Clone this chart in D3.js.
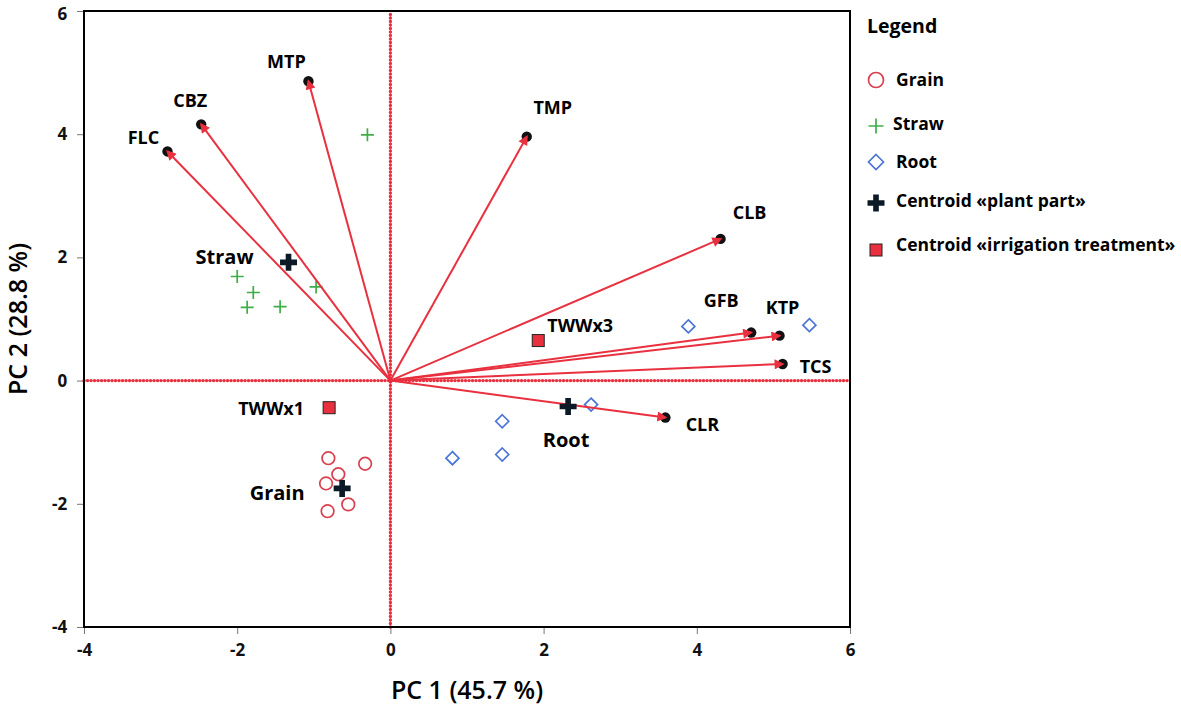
<!DOCTYPE html>
<html>
<head>
<meta charset="utf-8">
<script src="https://cdn.jsdelivr.net/npm/d3@7"></script>
<style>
  body { margin: 0; background: #fff; }
  text { font-family: "Open Sans", "Noto Sans", sans-serif; }
</style>
</head>
<body>
<svg id="biplot" width="1181" height="708"></svg>
<script>
// loading vectors (arrows)
const varNames = ["MTP", "CBZ", "FLC", "TMP", "CLB", "GFB", "KTP", "TCS", "CLR"];
const varX = [-1.07, -2.47, -2.91, 1.78, 4.31, 4.71, 5.08, 5.12, 3.59];
const varY = [4.86, 4.16, 3.72, 3.96, 2.30, 0.78, 0.73, 0.27, -0.60];

// sample scores
const grainX = [-0.81, -0.33, -0.68, -0.84, -0.55, -0.82];
const grainY = [-1.26, -1.35, -1.52, -1.67, -2.01, -2.12];
const strawX = [-0.30, -2.00, -1.79, -1.87, -1.44, -0.97];
const strawY = [3.99, 1.69, 1.43, 1.19, 1.20, 1.52];
const rootX = [0.81, 1.46, 1.46, 2.62, 3.89, 5.47];
const rootY = [-1.26, -1.20, -0.66, -0.39, 0.88, 0.90];

// centroids
const partNames = ["Straw", "Grain", "Root"];
const partX = [-1.33, -0.63, 2.32];
const partY = [1.92, -1.75, -0.42];
const treatNames = ["TWWx3", "TWWx1"];
const treatX = [1.93, -0.80];
const treatY = [0.65, -0.44];

const xTicks = [-4, -2, 0, 2, 4, 6];
const yTicks = [-4, -2, 0, 2, 4, 6];

const legendLabels = ["Grain", "Straw", "Root", "Centroid «plant part»", "Centroid «irrigation treatment»"];

const red = "#e8303f";
const green = "#3fae49";
const blue = "#4a74d6";

// label placement (pixel offsets from the point)
const varLabelOffset = {
  MTP: [-22, -20], CBZ: [-11, -24], FLC: [-24, -14], TMP: [26, -30], CLB: [29, -27],
  GFB: [-30, -33], KTP: [3, -29], TCS: [33, 2], CLR: [37, 6]
};
const partLabelOffset = { Straw: [-64, -6], Grain: [-65, 4], Root: [-2, 33] };
const treatLabelOffset = { TWWx3: [9, -16], TWWx1: [-58, 0] };

const svg = d3.select("#biplot");
const margin = { left: 84, top: 11, right: 331, bottom: 81 };
const W = 1181, H = 708;

const x = d3.scaleLinear().domain([-4, 6]).range([margin.left, W - margin.right]);
const y = d3.scaleLinear().domain([-4, 6]).range([H - margin.bottom, margin.top]);

svg.append("defs").append("marker")
  .attr("id", "head")
  .attr("viewBox", "0 0 10 10")
  .attr("refX", 8).attr("refY", 5)
  .attr("markerWidth", 7).attr("markerHeight", 5)
  .attr("markerUnits", "strokeWidth")
  .attr("orient", "auto")
  .append("path")
  .attr("d", "M0,0 L10,5 L0,10 Z")
  .attr("fill", red);

// axes
const xAxis = svg.append("g")
  .attr("transform", `translate(0,${H - margin.bottom})`)
  .call(d3.axisBottom(x).tickValues(xTicks).tickSize(7).tickFormat(d => String(d)));
const yAxis = svg.append("g")
  .attr("transform", `translate(${margin.left},0)`)
  .call(d3.axisLeft(y).tickValues(yTicks).tickSize(7).tickFormat(d => String(d)));

[xAxis, yAxis].forEach(g => {
  g.select(".domain").remove();
  g.selectAll("line").attr("stroke", "#777");
  g.selectAll("text")
    .attr("fill", "#111")
    .style("font-size", "17px")
    .style("font-weight", "bold");
});
xAxis.selectAll("text").attr("dy", "1.1em");
yAxis.selectAll("text").attr("dx", "-0.4em").attr("dy", d => d === 6 ? "0.5em" : "0.32em");

// zero lines
svg.append("line")
  .attr("x1", x(-4)).attr("x2", x(6)).attr("y1", y(0)).attr("y2", y(0))
  .attr("stroke", red).attr("stroke-width", 3.4)
  .attr("stroke-dasharray", "0.1,3.4").attr("stroke-linecap", "round");
svg.append("line")
  .attr("x1", x(0)).attr("x2", x(0)).attr("y1", y(-4)).attr("y2", y(6))
  .attr("stroke", red).attr("stroke-width", 3.4)
  .attr("stroke-dasharray", "0.1,3.4").attr("stroke-linecap", "round");

// frame
svg.append("rect")
  .attr("x", x(-4)).attr("y", y(6))
  .attr("width", x(6) - x(-4)).attr("height", y(-4) - y(6))
  .attr("fill", "none").attr("stroke", "#000").attr("stroke-width", 2);

// axis titles
svg.append("text")
  .attr("x", (x(-4) + x(6)) / 2).attr("y", 699)
  .attr("text-anchor", "middle")
  .style("font-size", "25px").style("font-weight", "600")
  .text("PC 1 (45.7 %)");
svg.append("text")
  .attr("transform", `translate(27,${(y(-4) + y(6)) / 2}) rotate(-90)`)
  .attr("text-anchor", "middle")
  .style("font-size", "25px").style("font-weight", "600")
  .text("PC 2 (28.8 %)");

// sample points
const grain = grainX.map((v, i) => ({ x: v, y: grainY[i] }));
const straw = strawX.map((v, i) => ({ x: v, y: strawY[i] }));
const root = rootX.map((v, i) => ({ x: v, y: rootY[i] }));

svg.selectAll(".grain").data(grain).enter().append("circle")
  .attr("cx", d => x(d.x)).attr("cy", d => y(d.y)).attr("r", 6.3)
  .attr("fill", "none").attr("stroke", "#d9404f").attr("stroke-width", 1.7);

svg.selectAll(".straw").data(straw).enter().append("path")
  .attr("transform", d => `translate(${x(d.x)},${y(d.y)})`)
  .attr("d", "M-6.5,0 H6.5 M0,-6.5 V6.5")
  .attr("stroke", green).attr("stroke-width", 1.7).attr("fill", "none");

svg.selectAll(".root").data(root).enter().append("path")
  .attr("transform", d => `translate(${x(d.x)},${y(d.y)})`)
  .attr("d", "M0,-6.5 L6.5,0 L0,6.5 L-6.5,0 Z")
  .attr("stroke", blue).attr("stroke-width", 1.7).attr("fill", "none");

// arrows
const vars = varNames.map((n, i) => ({ name: n, x: varX[i], y: varY[i] }));
svg.selectAll(".tip").data(vars).enter().append("circle")
  .attr("cx", d => x(d.x)).attr("cy", d => y(d.y)).attr("r", 5.2)
  .attr("fill", "#111");
svg.selectAll(".arrow").data(vars).enter().append("line")
  .attr("x1", x(0)).attr("y1", y(0))
  .attr("x2", d => x(d.x)).attr("y2", d => y(d.y))
  .attr("stroke", red).attr("stroke-width", 2)
  .attr("marker-end", "url(#head)");
svg.selectAll(".vlabel").data(vars).enter().append("text")
  .attr("x", d => x(d.x) + varLabelOffset[d.name][0])
  .attr("y", d => y(d.y) + varLabelOffset[d.name][1])
  .attr("text-anchor", "middle").attr("dominant-baseline", "central")
  .style("font-size", "18px").style("font-weight", "bold")
  .text(d => d.name);

// centroids
const parts = partNames.map((n, i) => ({ name: n, x: partX[i], y: partY[i] }));
const treats = treatNames.map((n, i) => ({ name: n, x: treatX[i], y: treatY[i] }));

svg.selectAll(".part").data(parts).enter().append("path")
  .attr("transform", d => `translate(${x(d.x)},${y(d.y)})`)
  .attr("d", d3.symbol().type(d3.symbolCross).size(160))
  .attr("fill", "#0b1a26");
svg.selectAll(".plabel").data(parts).enter().append("text")
  .attr("x", d => x(d.x) + partLabelOffset[d.name][0])
  .attr("y", d => y(d.y) + partLabelOffset[d.name][1])
  .attr("text-anchor", "middle").attr("dominant-baseline", "central")
  .style("font-size", "20px").style("font-weight", "bold")
  .text(d => d.name);

svg.selectAll(".treat").data(treats).enter().append("rect")
  .attr("x", d => x(d.x) - 6).attr("y", d => y(d.y) - 6)
  .attr("width", 12).attr("height", 12)
  .attr("fill", red).attr("stroke", "#222").attr("stroke-width", 1);
svg.selectAll(".tlabel").data(treats).enter().append("text")
  .attr("x", d => x(d.x) + treatLabelOffset[d.name][0])
  .attr("y", d => y(d.y) + treatLabelOffset[d.name][1])
  .attr("text-anchor", d => d.name === "TWWx3" ? "start" : "middle")
  .attr("dominant-baseline", "central")
  .style("font-size", "18px").style("font-weight", "bold")
  .text(d => d.name);

// legend
const lg = svg.append("g").attr("transform", "translate(867,0)");
lg.append("text").attr("x", 0).attr("y", 25).attr("dominant-baseline", "central")
  .style("font-size", "19.5px").style("font-weight", "bold").text("Legend");
const rowY = [79, 123, 161, 200, 244];
const symX = 9;
lg.append("circle").attr("cx", symX).attr("cy", rowY[0] + 1).attr("r", 7.5)
  .attr("fill", "none").attr("stroke", "#d9404f").attr("stroke-width", 1.7);
lg.append("path").attr("transform", `translate(${symX},${rowY[1] + 3})`)
  .attr("d", "M-7.5,0 H7.5 M0,-7.5 V7.5").attr("stroke", green).attr("stroke-width", 1.7);
lg.append("path").attr("transform", `translate(${symX},${rowY[2] + 1})`)
  .attr("d", "M0,-7.5 L7.5,0 L0,7.5 L-7.5,0 Z").attr("stroke", blue).attr("stroke-width", 1.7).attr("fill", "none");
lg.append("path").attr("transform", `translate(${symX},${rowY[3] + 3})`)
  .attr("d", d3.symbol().type(d3.symbolCross).size(160)).attr("fill", "#0b1a26");
lg.append("rect").attr("x", symX - 6).attr("y", rowY[4]).attr("width", 12).attr("height", 12)
  .attr("fill", red).attr("stroke", "#222").attr("stroke-width", 1);
lg.selectAll(".ltext").data(legendLabels).enter().append("text")
  .attr("x", (d, i) => i === 1 ? 26 : 29)
  .attr("y", (d, i) => rowY[i])
  .attr("dominant-baseline", "central")
  .style("font-size", "17.5px").style("font-weight", "bold")
  .text(d => d);
</script>
</body>
</html>
